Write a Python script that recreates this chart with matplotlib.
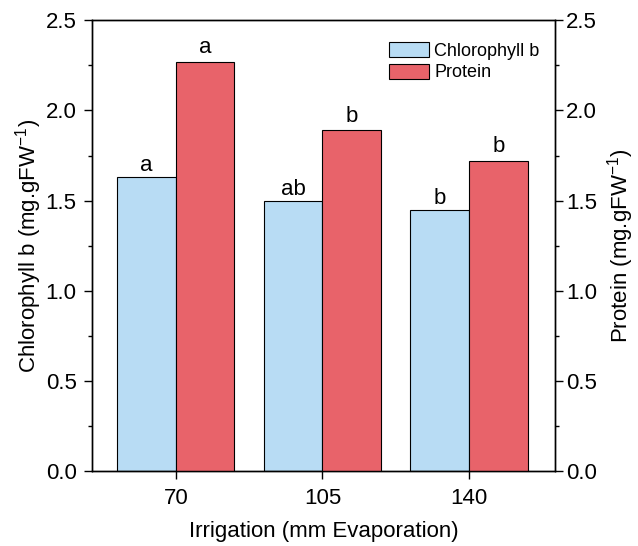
import numpy as np
import matplotlib.pyplot as plt
from matplotlib.ticker import MultipleLocator

plt.rcParams['font.family'] = ['Liberation Sans', 'DejaVu Sans']
plt.rcParams['mathtext.fontset'] = 'custom'
plt.rcParams['mathtext.rm'] = 'Liberation Sans'
plt.rcParams['mathtext.it'] = 'Liberation Sans:italic'

# data
irrigation = ['70', '105', '140']
chlorophyll_b = [1.63, 1.50, 1.45]
protein = [2.27, 1.89, 1.72]
chl_letters = ['a', 'ab', 'b']
prot_letters = ['a', 'b', 'b']

blue = '#B8DCF4'
red = '#E8636A'
width = 0.40
x = np.arange(len(irrigation))

fig = plt.figure(figsize=(6.38, 5.46), dpi=100)
ax1 = fig.add_axes([0.144, 0.137, 0.726, 0.826])
ax2 = ax1.twinx()

b1 = ax1.bar(x - width / 2, chlorophyll_b, width, color=blue, edgecolor='black',
             linewidth=0.8, label='Chlorophyll b')
b2 = ax2.bar(x + width / 2, protein, width, color=red, edgecolor='black',
             linewidth=0.8, label='Protein')

for bar, lab in zip(b1, chl_letters):
    ax1.text(bar.get_x() + bar.get_width() / 2, bar.get_height() + 0.005, lab,
             ha='center', va='bottom', fontsize=16)
for bar, lab in zip(b2, prot_letters):
    ax2.text(bar.get_x() + bar.get_width() / 2, bar.get_height() + 0.02, lab,
             ha='center', va='bottom', fontsize=16)

for ax in (ax1, ax2):
    ax.set_ylim(0, 2.5)
    ax.yaxis.set_major_locator(MultipleLocator(0.5))
    ax.yaxis.set_minor_locator(MultipleLocator(0.25))
    ax.yaxis.set_major_formatter(plt.FormatStrFormatter('%.1f'))
    ax.tick_params(axis='y', which='major', length=6, width=1, labelsize=16, direction='out')
    ax.tick_params(axis='y', which='minor', length=3, width=1, direction='out')
ax1.tick_params(axis='y', which='major', pad=5)
ax2.tick_params(axis='y', which='major', pad=2)

ax1.set_xlim(-0.573, 2.587)
ax1.set_xticks(x)
ax1.set_xticklabels(irrigation)
ax1.tick_params(axis='x', length=6, width=1, labelsize=16, direction='out', pad=6)

ax1.set_xlabel('Irrigation (mm Evaporation)', fontsize=16, labelpad=9)
ax1.set_ylabel('Chlorophyll b (mg.gFW$^{\\mathrm{-1}}$)', fontsize=16, labelpad=1)
ax2.set_ylabel('Protein (mg.gFW$^{\\mathrm{-1}}$)', fontsize=16, labelpad=6)

for ax in (ax1, ax2):
    for sp in ax.spines.values():
        sp.set_linewidth(1)

handles = [b1, b2]
ax2.legend(handles, ['Chlorophyll b', 'Protein'], loc='upper right',
           bbox_to_anchor=(0.99, 0.975), frameon=False, fontsize=13,
           handlelength=2.2, handleheight=0.9, handletextpad=0.3, labelspacing=0.2,
           borderaxespad=0.2)

fig.savefig('out.png', dpi=100)
